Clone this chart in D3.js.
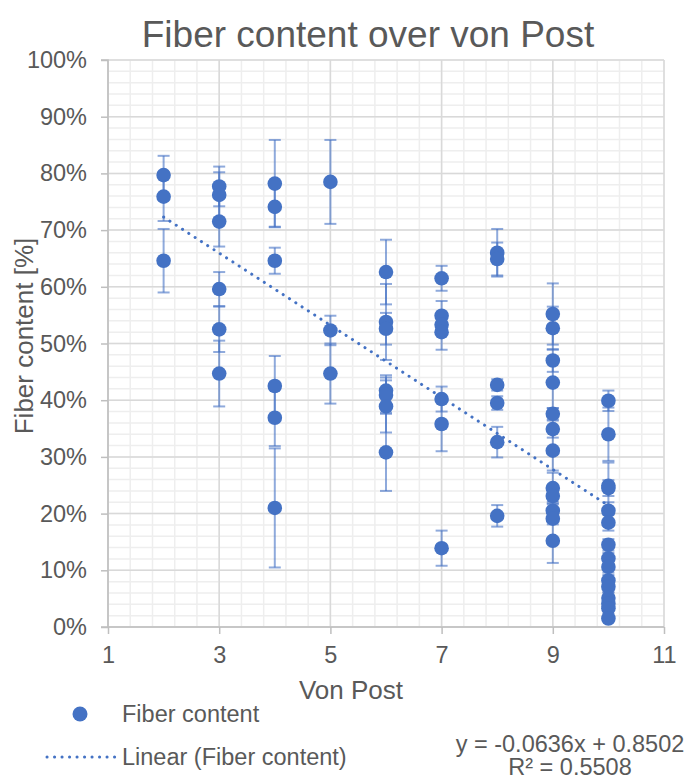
<!DOCTYPE html>
<html>
<head>
<meta charset="utf-8">
<script src="https://cdn.jsdelivr.net/npm/d3@7"></script>
<style>
  body { margin: 0; background: #fff; }
  svg { display: block; font-family: "Liberation Sans", Arial, sans-serif; }
</style>
</head>
<body>
<svg id="chart" width="688" height="778"></svg>
<script>
// Von Post humification class of each sample
const vonPost = [
  2, 2, 2,
  3, 3, 3, 3, 3, 3,
  4, 4, 4, 4, 4, 4,
  5, 5, 5,
  6, 6, 6, 6, 6, 6, 6,
  7, 7, 7, 7, 7, 7, 7,
  8, 8, 8, 8, 8, 8,
  9, 9, 9, 9, 9, 9, 9, 9, 9, 9, 9, 9,
  10, 10, 10, 10, 10, 10, 10, 10, 10, 10, 10, 10, 10, 10, 10
];

// Measured fiber content (fraction of sample)
const fiber = [
  0.797, 0.759, 0.646,
  0.777, 0.762, 0.715, 0.596, 0.525, 0.447,
  0.782, 0.741, 0.646, 0.425, 0.369, 0.210,
  0.785, 0.523, 0.447,
  0.626, 0.538, 0.526, 0.417, 0.409, 0.389, 0.308,
  0.615, 0.549, 0.533, 0.520, 0.402, 0.358, 0.139,
  0.660, 0.649, 0.427, 0.395, 0.326, 0.196,
  0.552, 0.527, 0.470, 0.431, 0.376, 0.349, 0.311, 0.245, 0.231, 0.205, 0.191, 0.152,
  0.399, 0.340, 0.249, 0.245, 0.205, 0.184, 0.145, 0.121, 0.106, 0.082, 0.071, 0.051, 0.041, 0.033, 0.015
];

// Standard deviation of each measurement
const fiberError = [
  0.034, 0.043, 0.056,
  0.035, 0.040, 0.044, 0.030, 0.040, 0.058,
  0.077, 0.035, 0.023, 0.053, 0.050, 0.105,
  0.074, 0.026, 0.053,
  0.057, 0.067, 0.028, 0.027, 0.031, 0.046, 0.068,
  0.022, 0.026, 0.015, 0.031, 0.022, 0.048, 0.031,
  0.042, 0.029, 0.010, 0.012, 0.027, 0.019,
  0.054, 0.038, 0.020, 0.045, 0.010, 0.015, 0.035, 0.027, 0.010, 0.012, 0.010, 0.039,
  0.018, 0.047, 0.041, 0.014, 0.015, 0.014, 0.010, 0.010, 0.010, 0.010, 0.010, 0.010, 0.010, 0.010, 0.005
];

const xTicks = [1, 3, 5, 7, 9, 11];
const yTicks = [0, 0.1, 0.2, 0.3, 0.4, 0.5, 0.6, 0.7, 0.8, 0.9, 1.0];

// Linear least-squares fit reported for the series
const trendSlope = -0.0636;
const trendIntercept = 0.8502;
const trendR2 = 0.5508;
const trendSpan = [2, 10];

const titleText = "Fiber content over von Post";
const xTitle = "Von Post";
const yTitle = "Fiber content [%]";
const seriesName = "Fiber content";

const blue = "#4472C4";
const textColor = "#595959";

const svg = d3.select("#chart");

const x = d3.scaleLinear().domain([1, 11]).range([108, 664]);
const y = d3.scaleLinear().domain([0, 1]).range([627, 60]);

// Minor gridlines
const xMinor = d3.range(0, 26).map(i => 1 + i * 0.4).filter(v => v <= 11.0001);
const yMinor = d3.range(0, 51).map(i => i * 0.02);

const grid = svg.append("g");
grid.selectAll("line.xm").data(xMinor).join("line")
  .attr("x1", d => x(d)).attr("x2", d => x(d))
  .attr("y1", y(0)).attr("y2", y(1))
  .attr("stroke", "#EEEEEE").attr("stroke-width", 1.5);
grid.selectAll("line.ym").data(yMinor).join("line")
  .attr("x1", x(1)).attr("x2", x(11))
  .attr("y1", d => y(d)).attr("y2", d => y(d))
  .attr("stroke", "#EEEEEE").attr("stroke-width", 1.5);

// Major gridlines
grid.selectAll("line.xM").data(xTicks).join("line")
  .attr("x1", d => x(d)).attr("x2", d => x(d))
  .attr("y1", y(0)).attr("y2", y(1))
  .attr("stroke", "#D9D9D9").attr("stroke-width", 1.5);
grid.selectAll("line.yM").data(yTicks).join("line")
  .attr("x1", x(1)).attr("x2", x(11))
  .attr("y1", d => y(d)).attr("y2", d => y(d))
  .attr("stroke", "#D9D9D9").attr("stroke-width", 1.5);

// Axes
const yAxis = d3.axisLeft(y).tickValues(yTicks).tickFormat(d3.format(".0%"))
  .tickSize(7).tickPadding(14);
const xAxis = d3.axisBottom(x).tickValues(xTicks).tickFormat(d3.format("d"))
  .tickSize(7).tickPadding(12);

const gy = svg.append("g").attr("transform", `translate(${x(1)},0)`).call(yAxis);
const gx = svg.append("g").attr("transform", `translate(0,${y(0)})`).call(xAxis);
[gx, gy].forEach(g => {
  g.select(".domain").attr("stroke", "#BFBFBF").attr("stroke-width", 1.5);
  g.selectAll(".tick line").attr("stroke", "#BFBFBF").attr("stroke-width", 1.5);
  g.selectAll(".tick text").attr("fill", textColor)
    .style("font-size", "23.5px").style("font-family", '"Liberation Sans", Arial, sans-serif');
});
gy.select(".domain").attr("d", `M-7,${y(1)}H0V${y(0)}`);
gx.select(".domain").attr("d", `M${x(1) - 7},0H${x(11)}`);

// Error bars
const points = vonPost.map((v, i) => ({ v, f: fiber[i], e: fiberError[i] }));
const eb = svg.append("g").attr("stroke", blue).attr("stroke-opacity", 0.6).attr("stroke-width", 2);
points.forEach(p => {
  const cx = x(p.v), top = y(p.f + p.e), bot = y(p.f - p.e);
  eb.append("line").attr("x1", cx).attr("x2", cx).attr("y1", top).attr("y2", bot);
  eb.append("line").attr("x1", cx - 6).attr("x2", cx + 6).attr("y1", top).attr("y2", top);
  eb.append("line").attr("x1", cx - 6).attr("x2", cx + 6).attr("y1", bot).attr("y2", bot);
});

// Markers
svg.append("g").selectAll("circle").data(points).join("circle")
  .attr("cx", d => x(d.v)).attr("cy", d => y(d.f)).attr("r", 7.3)
  .attr("fill", blue);

// Trendline
const trend = trendSpan.map(v => [v, trendSlope * v + trendIntercept]);
svg.append("path")
  .attr("d", d3.line().x(d => x(d[0])).y(d => y(d[1]))(trend))
  .attr("fill", "none").attr("stroke", blue).attr("stroke-width", 3)
  .attr("stroke-linecap", "round").attr("stroke-dasharray", "0.1 7.4");

// Title
svg.append("text").attr("x", 368).attr("y", 47).attr("text-anchor", "middle")
  .attr("fill", textColor).style("font-size", "37px").text(titleText);

// Axis titles
svg.append("text").attr("x", 351).attr("y", 699).attr("text-anchor", "middle")
  .attr("fill", textColor).style("font-size", "26px").text(xTitle);
svg.append("text").attr("transform", "translate(33,336) rotate(-90)")
  .attr("text-anchor", "middle").attr("fill", textColor)
  .style("font-size", "26px").text(yTitle);

// Legend
const legend = svg.append("g");
legend.append("circle").attr("cx", 80).attr("cy", 714).attr("r", 7.5).attr("fill", blue);
legend.append("text").attr("x", 122).attr("y", 722).attr("fill", textColor)
  .style("font-size", "23.5px").text(seriesName);
legend.append("line").attr("x1", 47).attr("x2", 117).attr("y1", 757).attr("y2", 757)
  .attr("stroke", blue).attr("stroke-width", 3).attr("stroke-linecap", "round")
  .attr("stroke-dasharray", "0.1 7.4");
legend.append("text").attr("x", 122).attr("y", 765).attr("fill", textColor)
  .style("font-size", "23.5px").text(`Linear (${seriesName})`);

// Regression equation
const eq = svg.append("text").attr("text-anchor", "middle").attr("fill", textColor)
  .style("font-size", "23.5px");
eq.append("tspan").attr("x", 570).attr("y", 752)
  .text(`y = ${trendSlope}x + ${trendIntercept}`);
eq.append("tspan").attr("x", 570).attr("y", 775)
  .text(`R² = ${trendR2}`);
</script>
</body>
</html>
